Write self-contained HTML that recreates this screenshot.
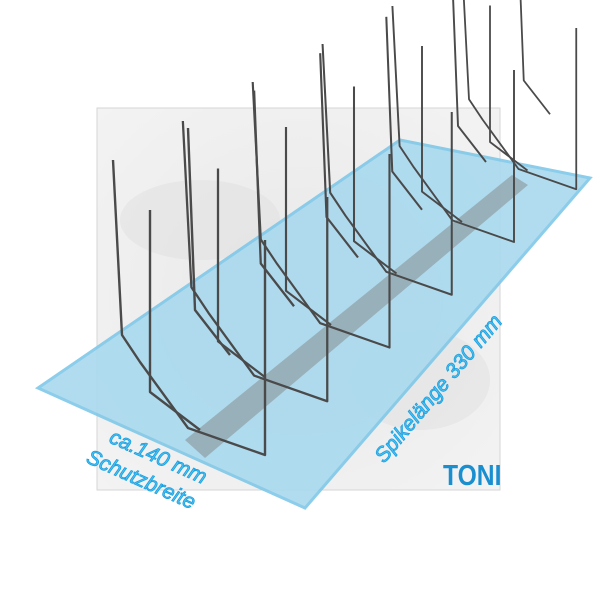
<!DOCTYPE html>
<html><head><meta charset="utf-8"><style>
html,body{margin:0;padding:0;background:#fff;}
svg{display:block}
</style></head><body>
<svg width="600" height="600" viewBox="0 0 600 600" xmlns="http://www.w3.org/2000/svg">
<defs>
<radialGradient id="mb" cx="50%" cy="50%" r="70%">
<stop offset="0" stop-color="#e8e8e8"/><stop offset="1" stop-color="#f3f3f3"/>
</radialGradient>
<g id="unit" fill="none" stroke="#4a4a4a" stroke-width="2.4" stroke-linejoin="round">
<polyline points="113,160 122,335 140,362 188,428 265,455 265,240"/>
<polyline points="150,210 150,392 200,430"/>
<polyline points="188,128 195,310 230,355"/>
</g>
</defs>
<rect x="97" y="108" width="403" height="382" fill="url(#mb)" stroke="#d6d6d6"/>
<ellipse cx="200" cy="220" rx="80" ry="40" fill="#e0e0e0" opacity="0.5"/>
<ellipse cx="420" cy="380" rx="70" ry="50" fill="#e0e0e0" opacity="0.5"/>
<polygon points="38,388 400,140 590,178 305,508" fill="#a9d9ee" opacity="0.9" stroke="#7fc8e8" stroke-width="3"/>
<polygon points="185,440 512,175 528,185 205,458" fill="#8e9ea4" opacity="0.7"/>
<g>
<use href="#unit" transform="translate(520,178) scale(0.75) translate(-190,-440)"/>
<use href="#unit" transform="translate(454,230) scale(0.8) translate(-190,-440)"/>
<use href="#unit" transform="translate(388,282) scale(0.85) translate(-190,-440)"/>
<use href="#unit" transform="translate(322,334) scale(0.9) translate(-190,-440)"/>
<use href="#unit" transform="translate(256,387) scale(0.95) translate(-190,-440)"/>
<use href="#unit"/>
</g>
<g font-family="Liberation Sans, sans-serif" font-style="italic" font-size="21" fill="#4fc0f0" stroke="#1aa0e0" stroke-width="0.8">
<text transform="translate(108,442) rotate(24)">ca.140 mm</text>
<text transform="translate(85,462) rotate(24)">Schutzbreite</text>
<text transform="translate(384,464) rotate(-50)">Spikelänge 330 mm</text>
</g>
<text x="443" y="485" font-family="Liberation Sans, sans-serif" font-weight="bold" font-size="29" fill="#1a8fd0" transform="translate(443,0) scale(0.85,1) translate(-443,0)">TONI</text>
</svg>
</body></html>
